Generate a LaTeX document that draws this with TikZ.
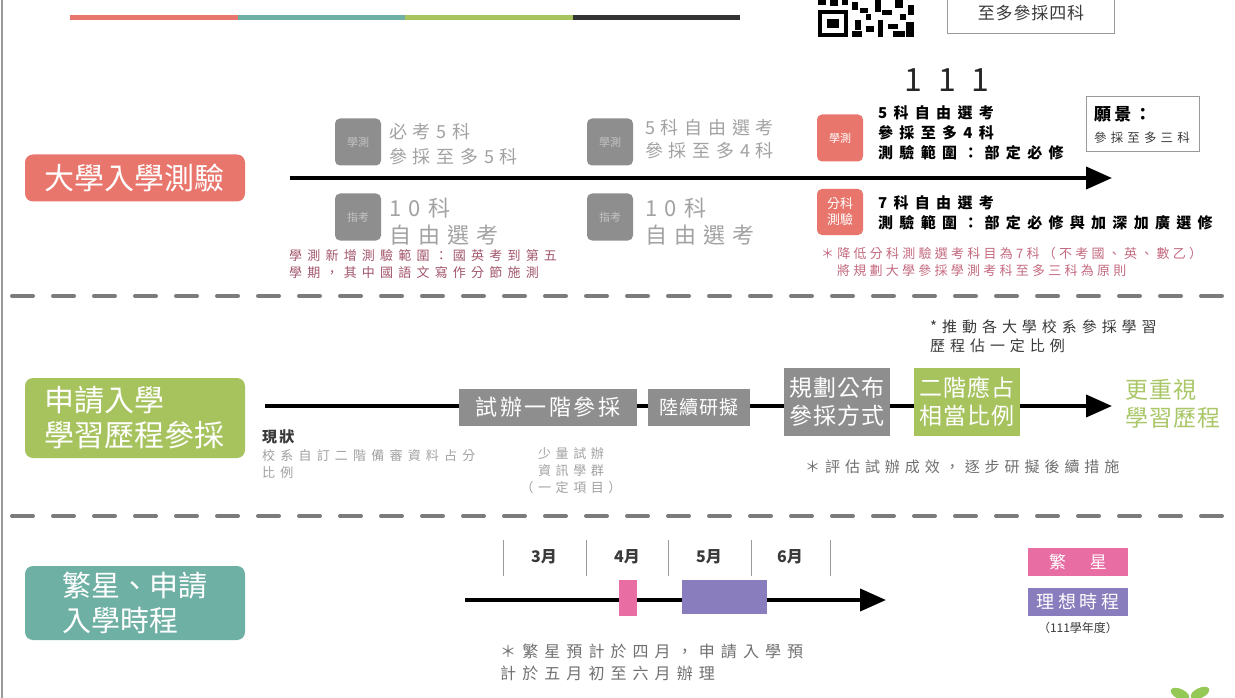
\documentclass[tikz,border=0pt]{standalone}
\usepackage{fontspec}
\setmainfont{Noto Sans CJK TC}
\usetikzlibrary{arrows.meta}

\definecolor{redBox}{HTML}{E8766C}
\definecolor{greenBox}{HTML}{A6C35E}
\definecolor{tealBox}{HTML}{6FB0A4}
\definecolor{stepGray}{HTML}{8E8E8E}
\definecolor{tagText}{HTML}{C4C4C4}
\definecolor{paleText}{HTML}{A2A2A2}
\definecolor{noteRed}{HTML}{A3566B}
\definecolor{notePink}{HTML}{C46A80}
\definecolor{lineGray}{HTML}{7B7B7B}
\definecolor{boxLine}{HTML}{9A9A9A}
\definecolor{darkText}{HTML}{3A3A3A}
\definecolor{midGray}{HTML}{707070}
\definecolor{greenText}{HTML}{A9C766}
\definecolor{starPink}{HTML}{E86DA3}
\definecolor{planPurple}{HTML}{8A7DBD}
\definecolor{barDark}{HTML}{333333}

\newcommand\fs[2]{\fontsize{#1}{#2}\selectfont}
\newcommand\ls[1]{\addfontfeatures{LetterSpace=#1}}

\tikzset{
  tag/.style={rounded corners=5pt,minimum width=46pt,minimum height=47pt,inner sep=0pt,font=\fs{11}{13}},
  graytag/.style={tag,fill=stepGray,text=tagText},
  redtag/.style={tag,fill=redBox,text=white},
  lab/.style={rounded corners=8pt,minimum width=220pt,text=white,inner sep=0pt,align=left},
  stepbox/.style={fill=stepGray,text=white,inner sep=0pt,align=center},
  faint/.style={text=paleText,anchor=west,align=left,inner sep=0pt},
  txt/.style={anchor=west,align=left,inner sep=0pt},
  bigarrow/.style={line width=4pt,-{Triangle[length=26pt,width=22pt]}},
  sep/.style={lineGray,line width=4pt,line cap=round,dash pattern=on 21pt off 20pt}
}

\begin{document}
\begin{tikzpicture}[x=1pt,y=-1pt]
  \useasboundingbox[fill=white] (0,0) rectangle (1235,698);
  \draw[boxLine,line width=2pt] (2,0) -- (2,698);

  % colour bar and top box
  \draw[redBox,line width=5pt] (70,18) -- (238,18);
  \draw[tealBox,line width=5pt] (238,18) -- (405,18);
  \draw[greenBox,line width=5pt] (405,18) -- (573,18);
  \draw[barDark,line width=5pt] (573,18) -- (740,18);
  \fill (818,10) rectangle (848,37);
  \fill[white] (822,14) rectangle (844,33);
  \fill (827,19) rectangle (839,28);
  \foreach \x/\y/\w/\h in {852/2/6/8,860/8/8/5,855/20/6/10,866/26/8/6,852/31/10/6,875/0/6/12,
      882/10/10/5,878/20/5/17,888/24/10/5,895/0/8/8,900/14/6/6,893/31/12/6,908/5/6/10,
      906/22/8/15,830/0/8/6,842/0/6/5,818/0/8/5,866/14/5/6}
    \fill (\x,\y) rectangle ++(\w,\h);
  \node[draw=boxLine,fill=white,minimum width=167pt,minimum height=40pt,text=darkText,font=\fs{17}{20}\ls{5}] (maxFour) at (1031,13) {至多參採四科};

  % university entrance exam
  \coordinate (t1s) at (290,178);
  \coordinate (t1e) at (1112,178);
  \draw[bigarrow] (t1s) -- (t1e);
  \node[lab,fill=redBox,minimum height=47pt,font=\fs{30}{33}] (exam) at (135,178) {大學入學測驗};

  \node[graytag] (gsatA) at (358,142) {學測};
  \node[graytag] (astA) at (358,217) {指考};
  \node[graytag] (gsatB) at (610,142) {學測};
  \node[graytag] (astB) at (610,217) {指考};
  \node[faint,font=\fs{18}{25}\ls{32}] (gsatAtxt) at (389,144) {必考5科\\參採至多5科};
  \node[faint,font=\fs{22}{27}\ls{33}] (astAtxt) at (389,222) {10科\\自由選考};
  \node[faint,font=\fs{18}{23}\ls{32}] (gsatBtxt) at (645,139) {5科自由選考\\參採至多4科};
  \node[faint,font=\fs{22}{27}\ls{33}] (astBtxt) at (645,222) {10科\\自由選考};
  \node[txt,text=noteRed,font=\fs{13}{17}\ls{40}] (note1) at (289,264) {學測新增測驗範圍：國英考到第五\\學期，其中國語文寫作分節施測};

  \node[font=\fs{32}{36}\ls{50},text=black!85] (year) at (947,80) {111};
  \node[redtag] (gsatC) at (840,138) {學測};
  \node[redtag,align=center,minimum height=46pt,font=\fs{13}{16}] (subjC) at (840,212) {分科\\測驗};
  \node[txt,font=\bfseries\fs{15}{20}\ls{42}] (gsatCtxt) at (878,133) {5科自由選考\\參採至多4科\\測驗範圍：部定必修};
  \node[txt,font=\bfseries\fs{15}{20}\ls{42}] (subjCtxt) at (878,213) {7科自由選考\\測驗範圍：部定必修與加深加廣選修};
  \node[txt,text=notePink,font=\fs{13}{17}\ls{25}] (note2) at (821,262) {＊降低分科測驗選考科目為7科（不考國、英、數乙）\\\hspace*{16pt}將規劃大學參採學測考科至多三科為原則};

  \node[draw=boxLine,minimum width=113pt,minimum height=55pt] (vision) at (1143,124) {};
  \node[txt,font=\bfseries\fs{17}{20}\ls{18}] (visionHead) at (1094,114) {願景：};
  \node[txt,text=darkText,font=\fs{12.5}{15}\ls{33}] (visionTxt) at (1094,138) {參採至多三科};

  \coordinate (sepAw) at (12,296);
  \coordinate (sepAe) at (1235,296);
  \draw[sep] (sepAw) -- (sepAe);

  % application and learning portfolio
  \coordinate (t2s) at (265,406);
  \coordinate (t2e) at (1112,406);
  \draw[bigarrow] (t2s) -- (t2e);
  \node[lab,fill=greenBox,minimum height=80pt,font=\fs{30}{35}] (apply) at (135,418) {申請入學\\學習歷程參採};

  \node[stepbox,minimum width=178pt,minimum height=37pt,font=\fs{22}{26}\ls{12}] (trial) at (548,407) {試辦一階參採};
  \node[stepbox,minimum width=102pt,minimum height=37pt,font=\fs{19}{24}\ls{5}] (draft) at (699,407) {陸續研擬};
  \node[stepbox,minimum width=106pt,minimum height=68pt,font=\fs{23}{28}\ls{5}] (plan) at (837,402) {規劃公布\\參採方式};
  \node[stepbox,fill=greenBox,minimum width=106pt,minimum height=68pt,font=\fs{23}{28}\ls{5}] (stage2) at (967,402) {二階應占\\相當比例};
  \node[txt,text=greenText,font=\fs{23}{28}\ls{5}] (goal) at (1125,404) {更重視\\學習歷程};

  \node[txt,text=darkText,font=\fs{15}{19}\ls{33}] (push) at (930,336) {*推動各大學校系參採學習\\歷程佔一定比例};
  \node[txt,text=midGray,font=\fs{15}{19}\ls{33}] (assess) at (805,467) {＊評估試辦成效，逐步研擬後續措施};
  \node[txt,text=darkText,font=\bfseries\fs{15}{17}\ls{15}] (now) at (262,437) {現狀};
  \node[faint,font=\fs{13}{17}\ls{40}] (nowTxt) at (262,464) {校系自訂二階備審資料占分\\比例};
  \node[align=center,inner sep=0pt,text=paleText,font=\fs{13}{17}\ls{35}] (pilot) at (571,471) {少量試辦\\資訊學群\\（一定項目）};

  \coordinate (sepBw) at (12,516);
  \coordinate (sepBe) at (1235,516);
  \draw[sep] (sepBw) -- (sepBe);

  % admission schedule
  \node[lab,fill=tealBox,minimum height=74pt,font=\fs{29}{35}] (schedule) at (135,603) {繁星、申請\\入學時程};
  \foreach \x in {503,586,668,751,830}
    \draw[boxLine,line width=1pt] (\x,540) -- (\x,576);
  \foreach \m/\x in {3/544,4/627,5/709,6/790}
    \node[text=darkText,font=\bfseries\fs{16}{18}] (m\m) at (\x,557) {\m 月};
  \coordinate (t3s) at (465,600);
  \coordinate (t3e) at (886,600);
  \draw[bigarrow] (t3s) -- (t3e);
  \node[fill=starPink,minimum width=18pt,minimum height=36pt,inner sep=0pt] (starBar) at (628,598) {};
  \node[fill=planPurple,minimum width=85pt,minimum height=34pt,inner sep=0pt] (planBar) at (724.5,597) {};

  \node[fill=starPink,text=white,minimum width=100pt,minimum height=28pt,inner sep=0pt,font=\fs{17}{20}\ls{20}] (keyStar) at (1078,562) {繁　星};
  \node[fill=planPurple,text=white,minimum width=100pt,minimum height=28pt,inner sep=0pt,font=\fs{18}{20}\ls{22}] (keyPlan) at (1078,602) {理想時程};
  \node[text=darkText,inner sep=0pt,font=\fs{12}{14}] (keyYear) at (1078,628) {（111學年度）};
  \node[txt,text=midGray,font=\fs{16}{22}\ls{38}] (rule) at (500,662) {＊繁星預計於四月，申請入學預\\計於五月初至六月辦理};

  \fill[greenBox!90!green,rotate around={-25:(1180,694)}] (1180,694) ellipse (10 and 5);
  \fill[greenBox!90!green,rotate around={25:(1200,693)}] (1200,693) ellipse (10 and 5);
\end{tikzpicture}
\end{document}
